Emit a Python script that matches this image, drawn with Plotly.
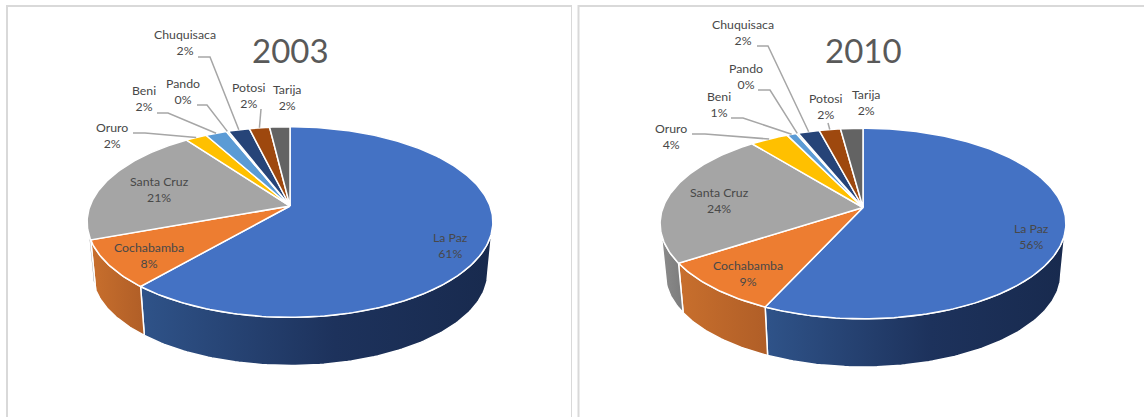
import math
import plotly.graph_objects as go

departments = ["La Paz", "Cochabamba", "Santa Cruz", "Oruro", "Beni", "Pando", "Chuquisaca", "Potosi", "Tarija"]
shown_2003 = ["61%", "8%", "21%", "2%", "2%", "0%", "2%", "2%", "2%"]
shown_2010 = ["56%", "9%", "24%", "4%", "1%", "0%", "2%", "2%", "2%"]
values_2003 = [61.3, 8.1, 20.6, 2.0, 2.0, 0.2, 2.0, 1.9, 1.9]
values_2010 = [56.8, 9.0, 23.4, 3.6, 0.9, 0.2, 2.0, 2.0, 2.1]

top_colors = ["#4472C4", "#ED7D31", "#A5A5A5", "#FFC000", "#5B9BD5", "#70AD47", "#264478", "#9E480E", "#636363"]
side_scales = {
    0: [[0, "#2F5389"], [0.55, "#1D325C"], [1, "#182A4E"]],
    1: [[0, "#C86F2D"], [1, "#B05E27"]],
    2: [[0, "#8C8C8C"], [1, "#7C7C7C"]],
}

# label placement (layout, not data): centre x, centre y
place_2003 = {"La Paz": (450, 246), "Cochabamba": (149, 256), "Santa Cruz": (159, 190), "Oruro": (112, 136),
              "Beni": (144, 99), "Pando": (183, 92), "Chuquisaca": (185, 43), "Potosi": (249, 96), "Tarija": (287, 98)}
place_2010 = {"La Paz": (1031, 237), "Cochabamba": (748, 274), "Santa Cruz": (719, 201), "Oruro": (671, 137),
              "Beni": (719, 105), "Pando": (746, 77), "Chuquisaca": (743, 33), "Potosi": (826, 107), "Tarija": (866, 103)}
# leader lines start: stub start and elbow
leaders_2003 = {"Oruro": [(133, 133), (145, 133)], "Beni": [(157, 113), (168, 113)], "Pando": [(197, 105), (207, 105)],
                "Chuquisaca": [(198, 57), (210, 57)], "Potosi": [(261, 109)]}
leaders_2010 = {"Oruro": [(692, 134), (705, 134)], "Beni": [(731, 118), (743, 118)], "Pando": [(758, 90), (770, 90)],
                "Chuquisaca": [(757, 46), (768, 46)], "Potosi": [(828, 123)]}

K = 0.168
A, B = 200.0, 92.6
SHRINK, DROP = 0.975, 51.0
THETA_R = 99.7


def rim(cx, ay, deg):
    t = math.radians(deg)
    u, v = math.sin(t), math.cos(t)
    w = 1 + K * v
    return cx + A * u / w, ay - B * v / w


def lower(cx, ay, deg):
    x, y = rim(cx, ay, deg)
    return cx + SHRINK * (x - cx), ay + SHRINK * (y - ay) + DROP


def sweep(a, b):
    n = max(2, int((b - a) / 1.0) + 2)
    return [a + (b - a) * i / (n - 1) for i in range(n)]


fig = go.Figure()


def add_pie(values, shown, cx, ay, place, leaders, title, xa, ya):
    total = sum(values)
    angles = [0.0]
    for val in values:
        angles.append(angles[-1] + 360.0 * val / total)

    # side walls
    for i, name in enumerate(departments):
        a = max(angles[i], THETA_R)
        b = min(angles[i + 1], 360 - THETA_R)
        if b <= a:
            continue
        deg = sweep(a, b)
        xs = [rim(cx, ay, d)[0] for d in deg] + [lower(cx, ay, d)[0] for d in reversed(deg)]
        ys = [rim(cx, ay, d)[1] for d in deg] + [lower(cx, ay, d)[1] for d in reversed(deg)]
        fig.add_trace(go.Scatter(x=xs + xs[:1], y=ys + ys[:1], mode="lines", fill="toself",
                                 fillgradient=dict(type="horizontal", colorscale=side_scales[i]),
                                 line=dict(color="white", width=1.5), xaxis=xa, yaxis=ya,
                                 hoverinfo="skip", showlegend=False, name=name + " side"))
    # top faces
    for i, name in enumerate(departments):
        deg = sweep(angles[i], angles[i + 1])
        xs = [cx] + [rim(cx, ay, d)[0] for d in deg] + [cx]
        ys = [ay] + [rim(cx, ay, d)[1] for d in deg] + [ay]
        fig.add_trace(go.Scatter(x=xs, y=ys, mode="lines", fill="toself", fillcolor=top_colors[i],
                                 line=dict(color="white", width=1.5), xaxis=xa, yaxis=ya,
                                 hoverinfo="skip", showlegend=False, name=name))
    # leaders
    for i, name in enumerate(departments):
        if name in leaders:
            pts = list(leaders[name]) + [rim(cx, ay, (angles[i] + angles[i + 1]) / 2)]
            fig.add_trace(go.Scatter(x=[p[0] for p in pts], y=[p[1] for p in pts], mode="lines",
                                     line=dict(color="#A6A6A6", width=1.5), xaxis=xa, yaxis=ya,
                                     hoverinfo="skip", showlegend=False, name=name + " leader"))
    # labels
    for i, name in enumerate(departments):
        px, py = place[name]
        fig.add_annotation(x=px, y=py - 0.5, xref=xa, yref=ya, text=f"{name}<br>{shown[i]}", showarrow=False,
                           font=dict(family="Lato", size=12.3, color="#484848"), align="center",
                           xanchor="center", yanchor="middle")
    fig.add_annotation(x=cx, y=50, xref=xa, yref=ya, text=title, showarrow=False,
                       font=dict(family="Lato", size=33, color="#595959"), xanchor="center", yanchor="middle")


add_pie(values_2003, shown_2003, 290, 206, place_2003, leaders_2003, "2003", "x", "y")
add_pie(values_2010, shown_2010, 863, 207.5, place_2010, leaders_2010, "2010", "x2", "y2")

border = dict(color="#D9D9D9", width=2)
shapes = [
    dict(type="path", xref="x", yref="y", path="M 7 417 L 7 6 L 572 6 L 572 417", line=border),
    dict(type="path", xref="x2", yref="y2", path="M 578.5 417 L 578.5 6 L 1144 6", line=border),
]

hidden = dict(visible=False, fixedrange=True)
fig.update_layout(
    width=1144, height=417, margin=dict(l=0, r=0, t=0, b=0), autosize=False,
    paper_bgcolor="white", plot_bgcolor="white", showlegend=False, shapes=shapes,
    xaxis=dict(domain=[0, 0.5], range=[0, 572], **hidden),
    yaxis=dict(domain=[0, 1], range=[417, 0], **hidden),
    xaxis2=dict(domain=[0.5, 1], range=[572, 1144], anchor="y2", **hidden),
    yaxis2=dict(domain=[0, 1], range=[417, 0], anchor="x2", **hidden),
)
fig.write_html("out.html", config=dict(displayModeBar=False),
               post_script="document.body.style.margin='0';document.body.style.overflow='hidden';")
